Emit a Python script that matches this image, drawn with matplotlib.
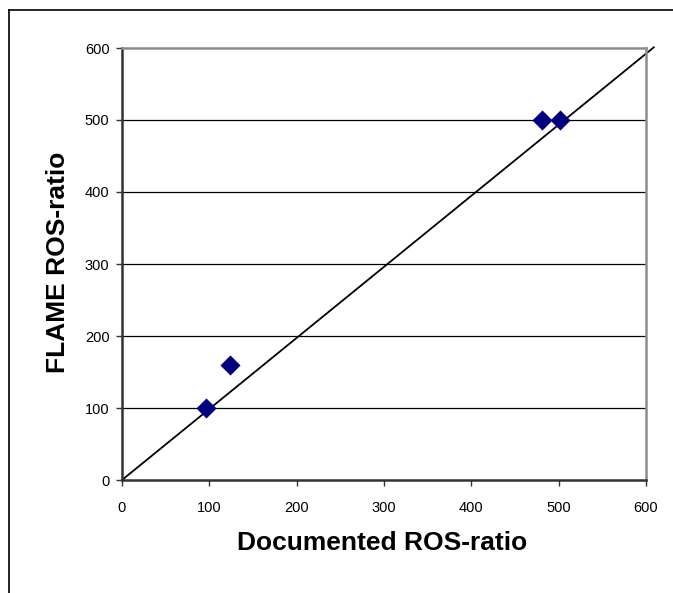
import matplotlib.pyplot as plt
from matplotlib.lines import Line2D

# data
documented = [96, 124, 481, 501]
flame = [100, 160, 500, 500]
# hand drawn 1:1 line (slightly off the true diagonal in the original)
line_x = [0, 609]
line_y = [0, 601]
ticks = [0, 100, 200, 300, 400, 500, 600]

plt.rcParams['font.family'] = ['Liberation Sans', 'DejaVu Sans']

fig = plt.figure(figsize=(6.73, 5.93), dpi=100)
ax = fig.add_axes([122 / 673, 1 - 480 / 593, 524 / 673, 432 / 593])

ax.set_xlim(0, 600)
ax.set_ylim(0, 600)
ax.set_xticks(ticks)
ax.set_yticks(ticks)

for y in ticks[1:-1]:
    ax.axhline(y, color='black', lw=0.9, zorder=1)

ax.plot(line_x, line_y, color='black', lw=1.3, clip_on=False, zorder=2)
ax.scatter(documented, flame, marker='D', s=105, color='#000080', zorder=3,
           linewidths=0)

for side in ['top', 'right']:
    ax.spines[side].set_color('#8c8c8c')
    ax.spines[side].set_linewidth(1.8)
for side in ['left', 'bottom']:
    ax.spines[side].set_color('#333333')
    ax.spines[side].set_linewidth(1.8)

ax.tick_params(axis='both', direction='out', length=4, width=1, color='#333333',
               labelsize=10.5)
ax.tick_params(axis='x', pad=11)
ax.tick_params(axis='y', pad=5)

ax.set_xlabel('Documented ROS-ratio', fontsize=19, fontweight='bold')
ax.set_ylabel('FLAME ROS-ratio', fontsize=19, fontweight='bold')
ax.xaxis.set_label_coords(0.497, -0.146)
ax.xaxis.label.set_va('center')
ax.yaxis.set_label_coords(-0.122, 0.505)
ax.yaxis.label.set_va('center')

# outer chart frame (only top and left edges visible in the crop)
fig.add_artist(Line2D([9 / 673, 1], [1 - 10 / 593, 1 - 10 / 593],
                      transform=fig.transFigure, color='black', lw=1.2))
fig.add_artist(Line2D([9 / 673, 9 / 673], [0, 1 - 10 / 593],
                      transform=fig.transFigure, color='black', lw=1.2))

fig.savefig('out.png', dpi=100)
